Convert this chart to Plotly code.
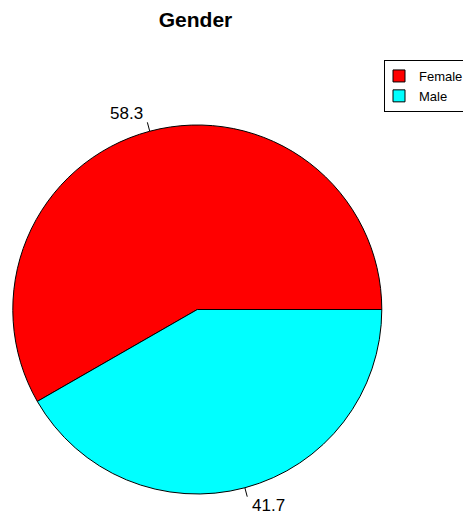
import math
import plotly.graph_objects as go

categories = ["Female", "Male"]
values = [58.3, 41.7]
colors = ["#FF0000", "#00FFFF"]
title_text = "Gender"

# The page puts the figure 8px in from the top-left corner of the window.
OFF = 8
W, H = 471 - OFF, 515 - OFF
cx, cy, r = 197.3, 309.5, 184.5  # pie centre/radius in window pixels

def px(x):
    return (x - OFF) / W

def py(y):
    return 1 - (y - OFF) / H

total = sum(values)

fig = go.Figure()
fig.add_trace(go.Pie(
    labels=categories,
    values=values,
    sort=False,
    direction="counterclockwise",
    rotation=90 - 360 * values[0] / total,
    marker=dict(colors=colors, line=dict(color="black", width=1)),
    textinfo="none",
    hoverinfo="label+value",
    domain=dict(x=[px(cx - r), px(cx + r)], y=[py(cy + r), py(cy - r)]),
    showlegend=True,
))

cum = 0.0
for v in values:
    mid = 2 * math.pi * (cum + v / 2) / total
    cum += v
    c, s = math.cos(mid), math.sin(mid)
    x0, y0 = cx + r * c, cy - r * s
    x1, y1 = cx + 1.05 * r * c, cy - 1.05 * r * s
    xl, yl = cx + 1.1 * r * c, cy - 1.1 * r * s
    fig.add_shape(type="line", xref="paper", yref="paper",
                  x0=px(x0), y0=py(y0), x1=px(x1), y1=py(y1),
                  line=dict(color="black", width=1))
    fig.add_annotation(xref="paper", yref="paper", x=px(xl), y=py(yl),
                       text=f"{v}", showarrow=False,
                       xanchor="right" if c < 0 else "left", yanchor="middle",
                       font=dict(size=17, color="black"))

fig.update_layout(
    width=W, height=H,
    margin=dict(l=0, r=0, t=0, b=0, autoexpand=False),
    paper_bgcolor="white", plot_bgcolor="white",
    font=dict(family="Liberation Sans, Arial, sans-serif", color="black"),
    title=dict(text=f"<b>{title_text}</b>", x=px(195.5), xanchor="center",
               y=py(20), yanchor="middle", font=dict(size=21, color="black")),
    legend=dict(x=px(384), y=py(60), xanchor="left", yanchor="top",
                bordercolor="black", borderwidth=1, bgcolor="white",
                font=dict(size=13, color="black"),
                indentation=-6, tracegroupgap=0),
)

fig.write_html("out.html")
